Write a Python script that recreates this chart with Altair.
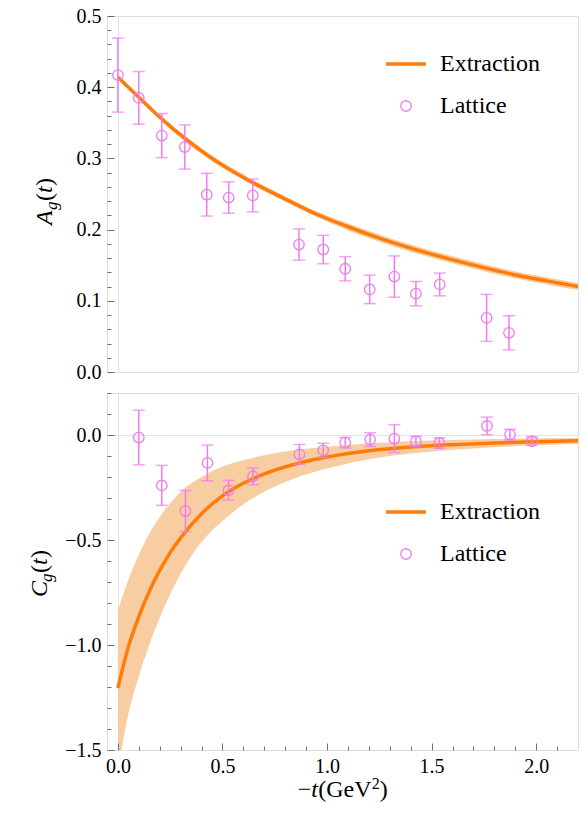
import altair as alt
import pandas as pd

FONT = "Liberation Serif"
ORANGE = "#ff7c0a"
BAND = "#f9cda2"
VIOLET = "#ee7cee"
FRAME = "#7d7d7d"
TICK = "#6f6f6f"
GRID = "#e4e4e4"

SERIES = ["Extraction", "Lattice"]

# ---------------- Lattice data ----------------
lat_tA = [0.0, 0.10, 0.21, 0.32, 0.425, 0.53, 0.645, 0.866, 0.982, 1.087, 1.204, 1.322, 1.425, 1.539, 1.763, 1.870]
lat_A = [0.417, 0.385, 0.332, 0.316, 0.249, 0.245, 0.248, 0.179, 0.172, 0.145, 0.116, 0.134, 0.110, 0.123, 0.076, 0.055]
lat_Aerr = [0.052, 0.037, 0.031, 0.031, 0.030, 0.022, 0.023, 0.022, 0.020, 0.017, 0.020, 0.029, 0.017, 0.016, 0.033, 0.024]

lat_tC = [0.10, 0.21, 0.323, 0.428, 0.529, 0.646, 0.868, 0.982, 1.087, 1.206, 1.322, 1.425, 1.537, 1.765, 1.875, 1.98]
lat_C = [-0.012, -0.240, -0.362, -0.133, -0.263, -0.197, -0.092, -0.073, -0.036, -0.022, -0.017, -0.030, -0.038, 0.043, 0.002, -0.029]
lat_Cerr = [0.130, 0.095, 0.098, 0.085, 0.047, 0.040, 0.047, 0.034, 0.025, 0.033, 0.066, 0.024, 0.025, 0.042, 0.025, 0.020]

# ---------------- Extraction curves ----------------
ext_tA = [0.0, 0.1, 0.2, 0.32, 0.45, 0.62, 0.8, 0.94, 1.1, 1.25, 1.4, 1.57, 1.73, 1.89, 2.05, 2.2]
ext_A = [0.414, 0.386, 0.358, 0.328, 0.300, 0.270, 0.243, 0.223, 0.204, 0.188, 0.174, 0.160, 0.148, 0.137, 0.128, 0.120]
ext_A_lo = [0.411, 0.383, 0.355, 0.324, 0.296, 0.266, 0.239, 0.219, 0.199, 0.183, 0.169, 0.155, 0.143, 0.132, 0.123, 0.115]
ext_A_hi = [0.417, 0.389, 0.361, 0.332, 0.304, 0.274, 0.247, 0.227, 0.209, 0.193, 0.179, 0.165, 0.153, 0.142, 0.133, 0.125]

ext_tC = [0.0, 0.05, 0.1, 0.15, 0.2, 0.25, 0.3, 0.4, 0.5, 0.6, 0.7, 0.85, 1.0, 1.2, 1.4, 1.6, 1.8, 2.0, 2.2]
ext_C = [-1.205, -1.01, -0.865, -0.745, -0.645, -0.56, -0.49, -0.375, -0.29, -0.23, -0.185, -0.138, -0.105, -0.075, -0.057, -0.046, -0.038, -0.032, -0.027]
ext_C_hi = [-0.835, -0.69, -0.57, -0.47, -0.39, -0.325, -0.27, -0.20, -0.15, -0.12, -0.097, -0.072, -0.056, -0.040, -0.030, -0.024, -0.019, -0.016, -0.014]
ext_C_lo = [-1.60, -1.33, -1.15, -1.00, -0.87, -0.76, -0.66, -0.51, -0.41, -0.33, -0.27, -0.205, -0.16, -0.115, -0.088, -0.070, -0.058, -0.049, -0.042]

# ---------------- axis tick values ----------------
x_major = [0.0, 0.5, 1.0, 1.5, 2.0]
x_minor = [0.1, 0.2, 0.3, 0.4, 0.6, 0.7, 0.8, 0.9, 1.1, 1.2, 1.3, 1.4, 1.6, 1.7, 1.8, 1.9, 2.1]
yA_major = [0.0, 0.1, 0.2, 0.3, 0.4, 0.5]
yA_minor = [0.02, 0.04, 0.06, 0.08, 0.12, 0.14, 0.16, 0.18, 0.22, 0.24, 0.26, 0.28,
            0.32, 0.34, 0.36, 0.38, 0.42, 0.44, 0.46, 0.48]
yC_major = [-1.5, -1.0, -0.5, 0.0]
yC_minor = [-1.4, -1.3, -1.2, -1.1, -0.9, -0.8, -0.7, -0.6, -0.4, -0.3, -0.2, -0.1, 0.1, 0.2]

X_DOMAIN = [-0.052, 2.2]
W = 471
ONE = pd.DataFrame({"k": [0]})


def lattice_df(t, v, e):
    return pd.DataFrame({"t": t, "v": v, "lo": [a - b for a, b in zip(v, e)],
                         "hi": [a + b for a, b in zip(v, e)], "series": "Lattice"})


def curve_df(t, v, lo, hi):
    return pd.DataFrame({"t": t, "v": v, "lo": lo, "hi": hi})


def label_axis(values, fmt):
    return alt.Axis(values=values, format=fmt, ticks=False, domain=False, grid=False,
                    labels=True, labelFont=FONT, labelFontSize=20, labelColor="black",
                    labelPadding=6, title=None)


def tick_axis(values, size, orient):
    return alt.Axis(values=values, ticks=True, tickSize=size, tickColor=TICK, tickWidth=1,
                    offset=-size, labels=False, domain=False, grid=False, title=None,
                    orient=orient, zindex=1)


def grid_axis(orient):
    return alt.Axis(values=[0], grid=True, gridColor=GRID, gridWidth=1, ticks=False,
                    labels=False, domain=False, title=None, orient=orient)


def text_piece(txt, size, style, x, y, angle=0):
    return alt.Chart(ONE).mark_text(text=txt, font=FONT, fontSize=size, fontStyle=style,
                                    angle=angle, align="left", baseline="alphabetic",
                                    color="black").encode(x=alt.value(x), y=alt.value(y))


def y_title(letter, bx, sy):
    # rotated title: italic capital, subscript g, (t)
    return [
        text_piece(letter, 24, "italic", bx, sy, 270),
        text_piece("g", 17, "italic", bx + 5, sy - 15, 270),
        text_piece("(", 24, "normal", bx, sy - 24, 270),
        text_piece("t", 24, "italic", bx, sy - 32, 270),
        text_piece(")", 24, "normal", bx, sy - 39, 270),
    ]


def x_title(height):
    by = height + 47
    sx = W / 2 - 44.75
    return [
        text_piece("\u2212", 24, "normal", sx, by),
        text_piece("t", 24, "italic", sx + 13.5, by),
        text_piece("(GeV", 24, "normal", sx + 20.5, by),
        text_piece("2", 16, "normal", sx + 74, by - 8),
        text_piece(")", 24, "normal", sx + 82, by),
    ]


def panel(lat, cur, ydom, ymaj, ymin, yfmt, height, bottom, legend_y, letter, title_x, title_y):
    xs = alt.Scale(domain=X_DOMAIN, nice=False, zero=False)
    ys = alt.Scale(domain=ydom, nice=False, zero=False)

    x_lab = label_axis(x_major, ".1f") if bottom else grid_axis("bottom")
    x_maj = tick_axis(x_major, 7, "bottom") if bottom else None
    x_min = tick_axis(x_minor, 4, "bottom") if bottom else None

    band = alt.Chart(cur).mark_area(color=BAND, opacity=1, clip=True, interpolate="monotone").encode(
        x=alt.X("t:Q", scale=xs, axis=x_lab),
        y=alt.Y("lo:Q", scale=ys, axis=label_axis(ymaj, yfmt)),
        y2="hi:Q",
    )
    line = alt.Chart(cur).mark_line(color=ORANGE, strokeWidth=3.5, clip=True, interpolate="monotone").encode(
        x=alt.X("t:Q", scale=xs, axis=x_maj),
        y=alt.Y("v:Q", scale=ys, axis=tick_axis(ymaj, 7, "left")),
    )
    bars = alt.Chart(lat).mark_rule(color=VIOLET, strokeWidth=1.5).encode(
        x=alt.X("t:Q", scale=xs, axis=x_min),
        y=alt.Y("lo:Q", scale=ys, axis=tick_axis(ymin, 4, "left")),
        y2="hi:Q",
    )
    caps = alt.Chart(lat).transform_fold(["lo", "hi"], as_=["end", "yv"]).mark_tick(
        color=VIOLET, orient="horizontal", size=12, thickness=1.5).encode(
        x=alt.X("t:Q", scale=xs, axis=grid_axis("bottom") if bottom else None),
        y=alt.Y("yv:Q", scale=ys, axis=grid_axis("left") if bottom else None),
    )
    leg = dict(orient="none", legendX=277, legendY=legend_y, title=None, labelFont=FONT,
               labelFontSize=24, labelColor="black", labelOffset=12, rowPadding=18,
               padding=0, labelLimit=0)
    pts = alt.Chart(lat).mark_point(filled=False, opacity=1).encode(
        x=alt.X("t:Q", scale=xs, axis=None),
        y=alt.Y("v:Q", scale=ys, axis=None),
        color=alt.Color("series:N", scale=alt.Scale(domain=SERIES, range=[ORANGE, VIOLET]),
                        legend=alt.Legend(**leg)),
        shape=alt.Shape("series:N", scale=alt.Scale(domain=SERIES, range=["stroke", "circle"]),
                        legend=alt.Legend(**leg)),
        size=alt.Size("series:N", scale=alt.Scale(domain=SERIES, range=[1600, 110]),
                      legend=alt.Legend(**leg)),
        strokeWidth=alt.StrokeWidth("series:N", scale=alt.Scale(domain=SERIES, range=[3.5, 1.3]),
                                    legend=alt.Legend(**leg)),
    )
    layers = [band, line, bars, caps, pts] + y_title(letter, title_x, title_y)
    if bottom:
        layers += x_title(height)
    return alt.layer(*layers).resolve_axis(x="independent", y="independent").properties(
        width=W, height=height)


latA = lattice_df(lat_tA, lat_A, lat_Aerr)
latC = lattice_df(lat_tC, lat_C, lat_Cerr)
curA = curve_df(ext_tA, ext_A, ext_A_lo, ext_A_hi)
curC = curve_df(ext_tC, ext_C, ext_C_lo, ext_C_hi)

top = panel(latA, curA, [0.0, 0.5], yA_major, yA_minor, ".1f", 356, False, 26, "A", -55, 209)
bot = panel(latC, curC, [-1.5, 0.2], yC_major, yC_minor, ".1f", 357, True, 97, "C", -60, 204)

chart = alt.vconcat(top, bot, spacing=21, bounds="flush").resolve_scale(
    color="independent", shape="independent", size="independent", strokeWidth="independent"
).resolve_legend(
    color="independent", shape="independent", size="independent", strokeWidth="independent"
).properties(
    padding={"left": 19, "top": -3, "right": 0, "bottom": 0}
).configure_view(stroke=FRAME, strokeWidth=1.2).configure(background="white")

chart.save("out.html", embed_options={"renderer": "svg", "actions": False})
